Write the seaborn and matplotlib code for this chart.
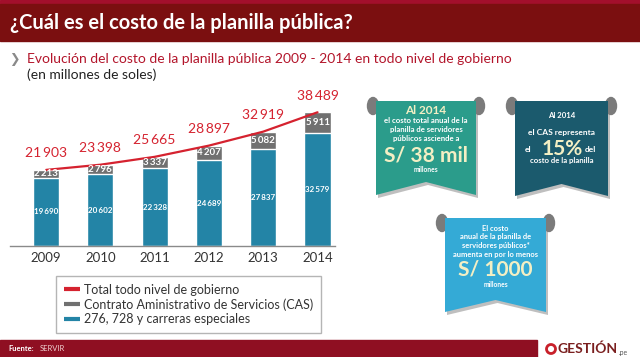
import numpy as np
import matplotlib
matplotlib.use("Agg")
import matplotlib.pyplot as plt
import seaborn as sns
from matplotlib.patches import Polygon, Ellipse, Rectangle, Circle
from matplotlib.lines import Line2D

# data (millones de soles)
years = ["2009", "2010", "2011", "2012", "2013", "2014"]
total = [21903, 23398, 25665, 28897, 32919, 38489]
cas = [2213, 2796, 3337, 4207, 5082, 5911]
regimen = [19690, 20602, 22328, 24689, 27837, 32579]

legend_labels = ["Total todo nivel de gobierno",
                 "Contrato Aministrativo de Servicios (CAS)",
                 "276, 728 y carreras especiales"]

RED = "#d5222f"
GRAY = "#707070"
BLUE = "#2384a6"
CREAM = "#f3efc4"

sns.set_theme(style="white")
plt.rcParams["font.family"] = ["Lato", "DejaVu Sans"]

fig = plt.figure(figsize=(6.4, 3.57), dpi=100)

# background layer in pixel coordinates
bg = fig.add_axes([0, 0, 1, 1], zorder=0)
bg.set_xlim(0, 640)
bg.set_ylim(357, 0)
bg.axis("off")

# header
bg.add_patch(Rectangle((0, 0), 640, 4, color="#a30f2c"))
bg.add_patch(Rectangle((0, 4), 640, 37, color="#7b0f10"))
bg.text(10, 23, "¿Cuál es el costo de la planilla pública?", color="white",
        fontsize=14.5, fontweight="bold", va="center")
bg.text(9, 59, "❯", color="#8a8a8a", fontsize=9, va="center", family="DejaVu Sans")
bg.text(27, 59, "Evolución del costo de la planilla pública 2009 - 2014 en todo nivel de gobierno",
        color="#b3152b", fontsize=10, va="center")
bg.text(27, 75, "(en millones de soles)", color="#222222", fontsize=10, va="center")

# footer
bg.add_patch(Rectangle((0, 340), 537, 17, color="#8f0f22"))
bg.text(8, 348.5, "Fuente:", color="white", fontsize=5.5, fontweight="bold", va="center")
bg.text(40, 348.5, "SERVIR", color="#f0d0d0", fontsize=5.5, va="center")
bg.add_patch(Circle((551, 349), 4.5, fill=False, edgecolor="#c8202a", lw=2))
bg.text(558, 349, "GESTIÓN", color="#7a1f1f", fontsize=10, fontweight="bold", va="center")
bg.text(619, 352, ".pe", color="#555555", fontsize=5, va="center")


def ribbon(x0, x1, top, bot, notch, color, z=1):
    xm = (x0 + x1) / 2
    shp = [(x0, top), (x1, top), (x1, bot), (xm, notch), (x0, bot)]
    sh = [(x + 2, y + 3) for x, y in shp]
    bg.add_patch(Polygon(sh, closed=True, color="#000000", alpha=0.25, lw=0, zorder=z))
    bg.add_patch(Ellipse((x0 - 3, top + 5), 11, 17, color="#7b7b7b", zorder=z))
    bg.add_patch(Ellipse((x1 + 3, top + 5), 11, 17, color="#7b7b7b", zorder=z))
    bg.add_patch(Polygon(shp, closed=True, color=color, lw=0, zorder=z + 1))
    return xm


def lines(xc, rows):
    for y, txt, size, col in rows:
        bg.text(xc, y, txt, color=col, fontsize=size, fontweight="bold",
                ha="center", va="center", zorder=5)


c1 = ribbon(376, 476, 101, 195, 182, "#2b9c8b")
lines(c1, [(110, "Al 2014", 8.5, CREAM),
           (120.5, "el costo total anual de la", 5.6, "white"),
           (129.5, "planilla de servidores", 5.6, "white"),
           (138.5, "públicos asciende a", 5.6, "white"),
           (155, "S/ 38 mil", 15, CREAM),
           (170, "millones", 4.8, "white")])

c2 = ribbon(515, 608, 101, 196, 184, "#1b5a6d")
lines(c2, [(116, "Al 2014", 5.6, "white"),
           (132.5, "el CAS representa", 6, "white"),
           (161, "costo de la planilla", 5.6, "white")])
bg.text(528, 150, "el", color="white", fontsize=6, fontweight="bold", ha="center", va="center", zorder=5)
bg.text(562, 149, "15%", color=CREAM, fontsize=15, fontweight="bold", ha="center", va="center", zorder=5)
bg.text(590, 150, "del", color="white", fontsize=6, fontweight="bold", ha="center", va="center", zorder=5)

c3 = ribbon(445, 546, 218, 312, 300, "#34aad6")
lines(c3, [(228.5, "El costo", 5.4, "white"),
           (237, "anual de la planilla de", 5.4, "white"),
           (245.5, "servidores públicos*", 5.4, "white"),
           (254, "aumenta en por lo menos", 5.4, "white"),
           (269, "S/ 1000", 15, CREAM),
           (284.5, "millones", 4.8, "white")])

# bar chart
ax = fig.add_axes([10 / 640, (357 - 246) / 357, 325 / 640, 156 / 357], zorder=2)
ax.patch.set_alpha(0)
sns.barplot(x=years, y=total, color=GRAY, width=0.48, saturation=1, ax=ax)
sns.barplot(x=years, y=regimen, color=BLUE, width=0.48, saturation=1, ax=ax)
sns.lineplot(x=years, y=total, color=RED, lw=1.6, ax=ax, sort=False)
ax.set_xlim(-0.663, 5.322)
ax.set_ylim(0, 44905)
ax.set_xlabel("")
ax.set_ylabel("")
ax.set_yticks([])
sns.despine(ax=ax, left=True)
ax.spines["bottom"].set_color("#8a8a8a")
ax.spines["bottom"].set_linewidth(1)
ax.tick_params(axis="x", length=0, pad=4, labelsize=9.5, labelcolor="#333333")


def fmt(v):
    return f"{v:,}".replace(",", "\u2009")


for i in range(len(years)):
    ax.annotate(fmt(total[i]), (i, total[i]), xytext=(0, 12), textcoords="offset points",
                ha="center", va="center", color=RED, fontsize=10)
    ax.text(i, (regimen[i] + total[i]) / 2, fmt(cas[i]), ha="center", va="center",
            color="white", fontsize=7, fontweight="bold")
    ax.text(i, regimen[i] / 2, fmt(regimen[i]), ha="center", va="center",
            color="white", fontsize=5.8, fontweight="bold")

handles = [Line2D([0], [0], color=c, lw=3, solid_capstyle="butt") for c in (RED, GRAY, BLUE)]
fig.legend(handles, legend_labels, loc="upper left",
           bbox_to_anchor=(50 / 640, 1 - 270 / 357), frameon=True, fancybox=False,
           edgecolor="#b5b5b5", fontsize=9, handlelength=1.3, handletextpad=0.3,
           labelspacing=0.2, borderpad=0.6, labelcolor="#333333", framealpha=1)

fig.savefig("out.png", dpi=100)
